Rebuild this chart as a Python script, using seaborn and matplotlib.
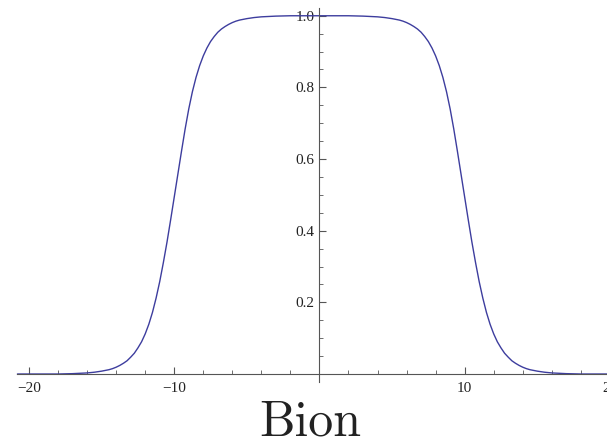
import numpy as np
import pandas as pd
import seaborn as sns
import matplotlib.pyplot as plt
from matplotlib.ticker import FixedLocator

# values (x, profile)
x_pts = [-20.8, -18.0, -17.0, -16.5, -16.0, -15.5, -15.0, -14.5,
         -14.25, -14.0, -13.75, -13.5, -13.25, -13.0, -12.75, -12.5, -12.25, -12.0,
         -11.75, -11.5, -11.25, -11.0, -10.75, -10.5, -10.25, -10.0, -9.75, -9.5,
         -9.25, -9.0, -8.75, -8.5, -8.25, -8.0, -7.75, -7.5, -7.25, -7.0,
         -6.75, -6.5, -6.25, -6.0, -5.75, -5.5,
         -5.0, -4.5, -4.0, -3.5, -3.0, -2.0, -1.0, 0.0,
         1.0, 2.0, 3.0, 3.5, 4.0, 4.5, 5.0,
         5.5, 5.75, 6.0, 6.25, 6.5, 6.75, 7.0, 7.25, 7.5, 7.75,
         8.0, 8.25, 8.5, 8.75, 9.0, 9.25, 9.5, 9.75, 10.0, 10.25,
         10.5, 10.75, 11.0, 11.25, 11.5, 11.75, 12.0, 12.25, 12.5, 12.75,
         13.0, 13.25, 13.5, 13.75, 14.0, 14.25,
         14.5, 15.0, 15.5, 16.0, 16.5, 17.0, 18.0, 20.2]
y_pts = [0.0, 0.0, 0.001, 0.002, 0.003, 0.005, 0.008, 0.012,
         0.015, 0.019, 0.024, 0.030, 0.037, 0.047, 0.058, 0.073, 0.090, 0.112,
         0.139, 0.172, 0.212, 0.258, 0.311, 0.368, 0.430, 0.494, 0.558, 0.622,
         0.684, 0.740, 0.788, 0.828, 0.861, 0.888, 0.910, 0.928, 0.942, 0.954,
         0.963, 0.970, 0.976, 0.981, 0.985, 0.988,
         0.992, 0.995, 0.997, 0.998, 0.999, 1.0, 1.0, 1.0,
         1.0, 1.0, 0.999, 0.998, 0.997, 0.995, 0.992,
         0.988, 0.985, 0.981, 0.976, 0.970, 0.963, 0.954, 0.942, 0.928, 0.910,
         0.888, 0.861, 0.828, 0.788, 0.740, 0.684, 0.622, 0.558, 0.494, 0.430,
         0.368, 0.311, 0.258, 0.212, 0.172, 0.139, 0.112, 0.090, 0.073, 0.058,
         0.047, 0.037, 0.030, 0.024, 0.019, 0.015,
         0.012, 0.008, 0.005, 0.003, 0.002, 0.001, 0.0, 0.0]

x_major = [-20, -10, 10, 20]
y_major = [0.2, 0.4, 0.6, 0.8, 1.0]
x_minor = [-18, -16, -14, -12, -8, -6, -4, -2, 2, 4, 6, 8, 12, 14, 16, 18]
y_minor = [0.05, 0.1, 0.15, 0.25, 0.3, 0.35, 0.45, 0.5, 0.55,
           0.65, 0.7, 0.75, 0.85, 0.9, 0.95]
title = "Bion"

df = pd.DataFrame({"x": x_pts, "y": y_pts})

sns.set_style("white")
plt.rcParams['font.family'] = ['Liberation Serif', 'DejaVu Serif']

fig = plt.figure(figsize=(6.07, 4.41), dpi=100)
# axes a bit wider than the figure so the "20" label is cut at the edge
ax = fig.add_axes([0, 0, 1.0095, 1])

sns.lineplot(data=df, x="x", y="y", color="#3d3d9e", lw=1.0, ax=ax)

ax.set_xlim(-22.0, 20.2)
ax.set_ylim(-0.187, 1.044)
ax.set_xlabel("")
ax.set_ylabel("")

# mathematica style axes through the origin
for s in ['top', 'right']:
    ax.spines[s].set_visible(False)
ax.spines['left'].set_position(('data', 0))
ax.spines['bottom'].set_position(('data', 0))
ax.spines['left'].set_bounds(-0.021, 1.021)
ax.spines['bottom'].set_bounds(-20.8, 20.2)
for s in ['left', 'bottom']:
    ax.spines[s].set_color('#555555')
    ax.spines[s].set_linewidth(0.8)

ax.xaxis.set_major_locator(FixedLocator(x_major))
ax.yaxis.set_major_locator(FixedLocator(y_major))
ax.xaxis.set_minor_locator(FixedLocator(x_minor))
ax.yaxis.set_minor_locator(FixedLocator(y_minor))
ax.tick_params(which='both', bottom=True, left=True, top=False, right=False,
               labeltop=False, labelright=False, direction='in',
               color='#555555', labelcolor='#222222', labelsize=11)
ax.tick_params(which='major', length=5, width=0.8)
ax.tick_params(which='minor', length=3, width=0.6)
ax.tick_params(axis='x', pad=6)
ax.tick_params(axis='y', pad=3.5)

fig.text(310 / 607, 6 / 441, title, fontfamily='cmr10', fontsize=36,
         ha='center', va='baseline', color='#222222')

fig.savefig("out.png", dpi=100)
